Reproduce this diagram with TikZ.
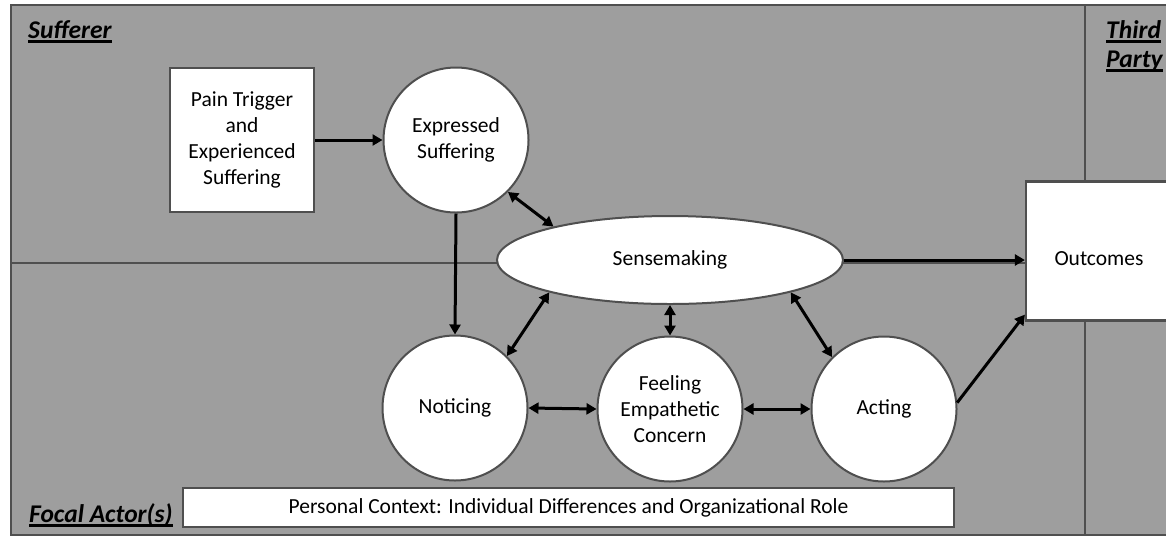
\documentclass[tikz,border=0pt]{standalone}
\usepackage{fontspec}
\setmainfont{Carlito}
\usetikzlibrary{arrows.meta,shapes.geometric}
\definecolor{bggray}{HTML}{9E9E9E}
\definecolor{linegray}{HTML}{4F4F4F}
\newcommand{\ulabel}[1]{\setbox0\hbox{#1}\rlap{\rule[-5pt]{\wd0}{2.6pt}}\box0}
\begin{document}
\begin{tikzpicture}[x=1pt,y=-1pt,
  txt/.style={font=\fontsize{21.5}{25.8}\selectfont},
  frameline/.style={draw=linegray,line width=2.5pt},
  whitebox/.style={rectangle,draw=linegray,line width=2.2pt,fill=white,inner sep=0pt,align=center,txt},
  circ/.style={circle,draw=linegray,line width=2pt,fill=white,minimum size=145pt,inner sep=0pt,align=center,txt},
  tip/.tip={Triangle[length=10pt,width=11pt]},
  conn/.style={line width=3pt,-tip},
  biconn/.style={line width=3pt,tip-tip},
  lab/.style={anchor=base west,inner sep=0pt,font=\fontsize{25.5}{29}\selectfont\bfseries\itshape}]
\useasboundingbox (0,0) rectangle (1166,539);
\clip (0,0) rectangle (1166,539);
% background and frame
\fill[bggray] (11,5) rectangle (1180,535);
\draw[frameline] (11,5) rectangle (1180,535);
\draw[frameline] (11,263) -- (1085,263);
\draw[frameline] (1085,5) -- (1085,535);
% section labels
\node[lab] (sufl) at (28,38) {\ulabel{Sufferer}};
\node[lab] (thirdl) at (1106,38) {\ulabel{Third}};
\node[lab] (partyl) at (1106,67) {\ulabel{Party}};
\node[lab] (focall) at (29,522) {\ulabel{Focal Actor(s)}};
% nodes
\node[whitebox,minimum width=144pt,minimum height=144pt] (pain) at (242,140) {Pain Trigger\\and\\Experienced\\Suffering};
\node[circ] (exp) at (456,140) {Expressed\\Suffering};
\node[ellipse,draw=linegray,line width=2pt,fill=white,minimum width=346pt,minimum height=88pt,inner sep=0pt,txt] (sense) at (670,260) {Sensemaking};
\node[circ] (notice) at (455,408) {Noticing};
\node[circ] (feel) at (670,409) {Feeling\\Empathetic\\Concern};
\node[circ] (act) at (884,409) {Acting};
\node[whitebox,minimum width=146pt,minimum height=139pt] (out) at (1099,251) {\raisebox{-14pt}[0pt][0pt]{Outcomes}};
\node[whitebox,minimum width=771pt,minimum height=39pt] (ctx) at (568.5,507.5) {Personal Context: Individual Differences and Organizational Role};
% connectors
\draw[conn] (pain.east) -- (exp.west);
\draw[conn] (exp.south) -- (notice.north);
\draw[biconn] (exp.-45) -- (sense.164);
\draw[biconn] (sense.195) -- (notice.45);
\draw[biconn] (sense.south) -- (feel.north);
\draw[biconn] (sense.-15) -- (act.135);
\draw[biconn] (notice.east) -- (feel.west);
\draw[biconn] (feel.east) -- (act.west);
\draw[conn] (sense.east) -- (sense.east -| out.west);
\draw[conn] (act.5) -- ([yshift=7pt]out.south west);
\end{tikzpicture}
\end{document}
